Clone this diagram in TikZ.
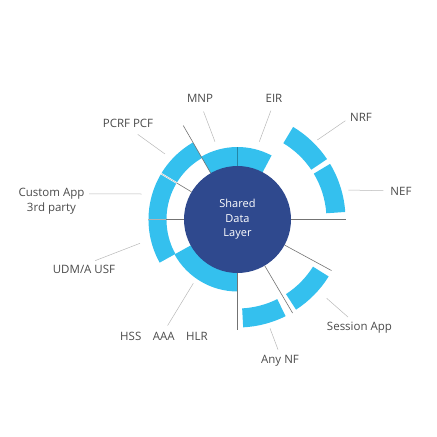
\documentclass[tikz,border=0pt]{standalone}
\usepackage{fontspec}
\setmainfont{Open Sans}
\usetikzlibrary{positioning}
\definecolor{ringcyan}{RGB}{52,192,238}
\definecolor{coreblue}{RGB}{47,73,142}
\definecolor{labelgray}{RGB}{74,74,74}

% ring segment: inner radius, outer radius, start angle, end angle
\newcommand{\ringseg}[4]{%
  \fill[ringcyan] (#3:#1) arc[start angle=#3, end angle=#4, radius=#1]
    -- (#4:#2) arc[start angle=#4, end angle=#3, radius=#2] -- cycle;}

\begin{document}
\begin{tikzpicture}[x=1pt, y=1pt,
    core/.style={circle, fill=coreblue, minimum size=107pt, inner sep=0pt,
                 text=white, align=center, font=\fontsize{11}{14.6}\selectfont},
    lbl/.style={text=labelgray, inner sep=0pt, anchor=base,
                font=\fontsize{11.5}{14}\selectfont},
    spoke/.style={draw=black!55, line width=0.6pt},
    leader/.style={draw=black!28, line width=0.5pt},
    split/.style={draw=white, line width=1.6pt}
]
    \useasboundingbox (-237.5,-217.5) rectangle (199.5,219.5);

    % inner ring
    \ringseg{52}{72.5}{62}{120}
    \ringseg{52}{72}{209}{270}
    % left ring
    \ringseg{71}{89}{120}{209}
    % right ring
    \ringseg{89}{108}{34}{59}
    \ringseg{89}{108}{4}{31}
    \ringseg{89}{107.5}{-57}{-32}
    \ringseg{89}{108}{-87}{-63.5}

    % splits in the left ring
    \foreach \a in {149,180} {
        \draw[split] (\a:70.5) -- (\a:89.5);
        \draw[draw=black!30, line width=0.4pt] (\a:71) -- (\a:89);
    }

    \node[core] (core) at (0,0) {Shared\\Data\\Layer};

    % spokes
    \foreach \a/\r in {0/108.5, -28.5/107, -59.5/108.5, -90/110.5, 120/108.5, 149/71, 180/71}
        \draw[spoke] (core) -- (\a:\r);
    \draw[draw=ringcyan!70!black, line width=0.5pt] (core) -- (90:72.5);

    % labels
    \node[lbl] (mnp) at (-37.5,117.5) {MNP};
    \node[lbl] (eir) at (36.5,117.5) {EIR};
    \node[lbl] (nrf) at (123.5,97.8) {NRF};
    \node[lbl] (nef) at (163.5,24.5) {NEF};
    \node[lbl] (session) at (122,-110.5) {Session App};
    \node[lbl] (anynf) at (42.5,-143.8) {Any NF};
    \node[lbl] (hss) at (-73.5,-120.5) {HSS\quad AAA\quad HLR};
    \node[lbl] (udm) at (-153.5,-54) {UDM/A USF};
    \node[lbl] (custom) at (-186,22.8) {Custom App};
    \node[lbl, below=2.8pt of custom] (party) {3rd party};
    \node[lbl] (pcrf) at (-109.5,92.5) {PCRF PCF};

    % leader tips
    \coordinate (mnp tip) at (-22.5,77.8);
    \coordinate (eir tip) at (21.8,77.8);
    \coordinate (nrf tip) at (79.8,79.5);
    \coordinate (nef tip) at (110.8,29.5);
    \coordinate (session tip) at (89.2,-78.8);
    \coordinate (anynf tip) at (32.5,-108.8);
    \coordinate (hss tip) at (-44.2,-63.8);
    \coordinate (udm tip) at (-97.5,-23.8);
    \coordinate (custom tip) at (-95.8,25.5);
    \coordinate (pcrf tip) at (-72.5,65.5);

    \draw[leader, shorten <=10pt] (mnp.south) -- (mnp tip);
    \draw[leader, shorten <=9pt] (eir.south) -- (eir tip);
    \draw[leader, shorten <=5.5pt] (nrf.west) -- (nrf tip);
    \draw[leader, shorten <=7pt] (nef.west) -- (nef tip);
    \draw[leader, shorten <=6.5pt] (session) -- (session tip);
    \draw[leader, shorten <=5.5pt] (anynf.north) -- (anynf tip);
    \draw[leader, shorten <=7pt] (hss.north) -- (hss tip);
    \draw[leader, shorten <=12pt] (udm.north) -- (udm tip);
    \draw[leader, shorten <=4.5pt] (custom.east) -- (custom tip);
    \draw[leader, shorten <=12pt] (pcrf.south) -- (pcrf tip);
\end{tikzpicture}
\end{document}
